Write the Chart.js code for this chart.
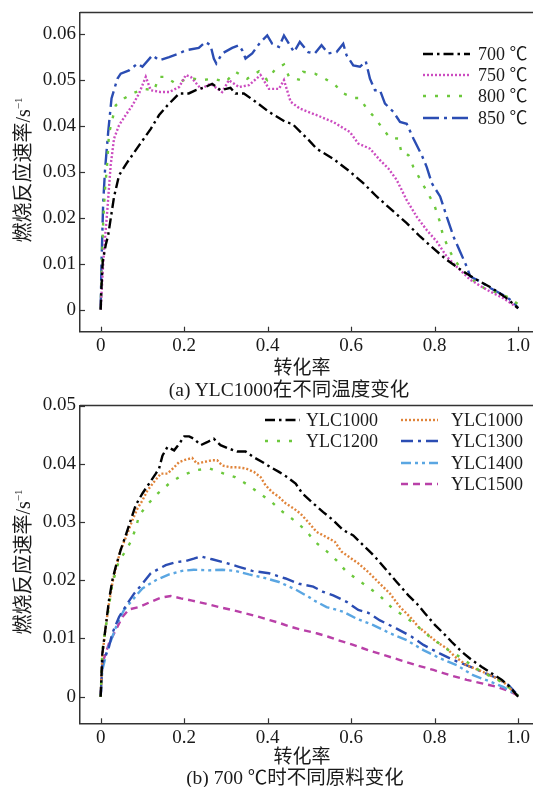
<!DOCTYPE html>
<html>
<head>
<meta charset="utf-8">
<script src="https://cdn.jsdelivr.net/npm/chart.js@4.4.1/dist/chart.umd.min.js"></script>
<style>
    html, body { margin: 0; padding: 0; background: #fff; }
    #page { position: relative; width: 533px; height: 787px; overflow: hidden; color: #1a1a1a;
            font-family: "Liberation Serif", "Times New Roman", "Noto Sans CJK SC", serif; }
    .box { position: absolute; left: 0; width: 533px; }
    #boxA { top: 0; height: 393px; }
    #boxB { top: 393px; height: 394px; }
    .lbl { position: absolute; white-space: nowrap; transform: translate(-50%, -50%); }
    .xtitle { font-size: 19px; }
    .caption { font-size: 19.5px; }
    .ytitle { font-size: 20px; transform: translate(-50%, -50%) rotate(-90deg); }
    .ytitle sup { font-size: 11px; }
</style>
</head>
<body>
<div id="page">
    <div class="box" id="boxA"><canvas id="chartA" width="533" height="393"></canvas></div>
    <div class="box" id="boxB"><canvas id="chartB" width="533" height="394"></canvas></div>
    <div class="lbl ytitle" style="left:21px; top:170px;">燃烧反应速率/s<sup>−1</sup></div>
    <div class="lbl xtitle" style="left:302px; top:365px;">转化率</div>
    <div class="lbl caption" style="left:289px; top:387px;">(a) YLC1000在不同温度变化</div>
    <div class="lbl ytitle" style="left:21px; top:562px;">燃烧反应速率/s<sup>−1</sup></div>
    <div class="lbl xtitle" style="left:302px; top:754px;">转化率</div>
    <div class="lbl caption" style="left:295px; top:775px;">(b) 700 ℃时不同原料变化</div>
</div>
<script>
"use strict";

// tick values
var xTicks = [0, 0.2, 0.4, 0.6, 0.8, 1.0];
var yTicksA = [0, 0.01, 0.02, 0.03, 0.04, 0.05, 0.06];
var yTicksB = [0, 0.01, 0.02, 0.03, 0.04, 0.05];

// (a) series labels and [conversion, rate] points
var labelsA = ["700 ℃", "750 ℃", "800 ℃", "850 ℃"];

var rate700 = [[0, 0], [0.002, 0.005], [0.005, 0.0105], [0.012, 0.014], [0.018, 0.0162], [0.032, 0.0245],
    [0.044, 0.0292], [0.062, 0.0318], [0.092, 0.0357], [0.12, 0.0393], [0.14, 0.0423], [0.16, 0.0444],
    [0.188, 0.047], [0.211, 0.047], [0.228, 0.0477], [0.251, 0.0484], [0.267, 0.0491], [0.287, 0.0477],
    [0.311, 0.0482], [0.323, 0.047], [0.343, 0.047], [0.371, 0.0452], [0.403, 0.043], [0.443, 0.0408],
    [0.459, 0.0404], [0.499, 0.0368], [0.517, 0.035], [0.557, 0.0328], [0.597, 0.03], [0.629, 0.0275],
    [0.661, 0.0246], [0.693, 0.022], [0.733, 0.0188], [0.765, 0.0159], [0.797, 0.0133], [0.829, 0.0108],
    [0.868, 0.0083], [0.901, 0.0065], [0.937, 0.0047], [0.972, 0.0025], [1.0, 0.0003]];

var rate750 = [[0, 0], [0.003, 0.005], [0.006, 0.01], [0.01, 0.015], [0.016, 0.0217], [0.024, 0.0314],
    [0.032, 0.0372], [0.044, 0.0401], [0.06, 0.0423], [0.076, 0.0444], [0.092, 0.047], [0.108, 0.0506],
    [0.12, 0.0477], [0.144, 0.0473], [0.164, 0.0473], [0.188, 0.0484], [0.204, 0.051], [0.216, 0.0506],
    [0.24, 0.048], [0.263, 0.0491], [0.291, 0.0473], [0.307, 0.0499], [0.331, 0.0484], [0.355, 0.0488],
    [0.383, 0.051], [0.403, 0.048], [0.427, 0.048], [0.439, 0.0499], [0.455, 0.0452], [0.477, 0.0437],
    [0.517, 0.0423], [0.557, 0.0408], [0.597, 0.0386], [0.617, 0.0361], [0.645, 0.035], [0.669, 0.0325],
    [0.689, 0.0307], [0.709, 0.0282], [0.733, 0.0238], [0.757, 0.0202], [0.781, 0.0173], [0.805, 0.0148],
    [0.829, 0.0115], [0.853, 0.0093], [0.885, 0.0065], [0.925, 0.0043], [0.964, 0.0025], [1.0, 0.0003]];

var rate800 = [[0, 0], [0.002, 0.0068], [0.004, 0.013], [0.006, 0.0191], [0.01, 0.0257], [0.016, 0.0322],
    [0.02, 0.0383], [0.036, 0.0444], [0.056, 0.0459], [0.076, 0.047], [0.104, 0.048], [0.128, 0.0477],
    [0.14, 0.0506], [0.156, 0.0506], [0.18, 0.0491], [0.207, 0.0502], [0.223, 0.0502], [0.243, 0.0499],
    [0.271, 0.0502], [0.299, 0.0495], [0.323, 0.0517], [0.351, 0.0502], [0.379, 0.0518], [0.399, 0.0499],
    [0.419, 0.0524], [0.439, 0.0533], [0.451, 0.0506], [0.479, 0.0499], [0.485, 0.0517], [0.513, 0.0513],
    [0.537, 0.0502], [0.561, 0.0489], [0.581, 0.047], [0.609, 0.046], [0.621, 0.046], [0.637, 0.0437],
    [0.653, 0.0421], [0.673, 0.0397], [0.693, 0.0373], [0.713, 0.0372], [0.721, 0.0339], [0.737, 0.0336],
    [0.749, 0.031], [0.766, 0.0282], [0.783, 0.0254], [0.799, 0.0228], [0.811, 0.0195], [0.819, 0.0165],
    [0.831, 0.0137], [0.846, 0.011], [0.866, 0.0086], [0.89, 0.0065], [0.918, 0.0047], [0.95, 0.0036],
    [0.974, 0.0028], [1.0, 0.0012]];

var rate850 = [[0, 0], [0.001, 0.005], [0.002, 0.0101], [0.004, 0.0166], [0.006, 0.0231], [0.01, 0.0297],
    [0.012, 0.0321], [0.018, 0.0386], [0.026, 0.0459], [0.04, 0.0502], [0.048, 0.0513], [0.068, 0.052],
    [0.088, 0.0535], [0.1, 0.0528], [0.124, 0.0553], [0.14, 0.0542], [0.164, 0.0549], [0.188, 0.0557],
    [0.204, 0.0564], [0.235, 0.0569], [0.251, 0.0582], [0.263, 0.0575], [0.271, 0.0546], [0.277, 0.0535],
    [0.291, 0.0557], [0.315, 0.0569], [0.331, 0.0575], [0.339, 0.0564], [0.347, 0.0546], [0.363, 0.0557],
    [0.383, 0.0582], [0.399, 0.0596], [0.411, 0.0578], [0.427, 0.0571], [0.439, 0.0596], [0.451, 0.0578],
    [0.463, 0.056], [0.477, 0.0582], [0.497, 0.056], [0.513, 0.0557], [0.529, 0.0575], [0.545, 0.0557],
    [0.565, 0.056], [0.581, 0.0578], [0.589, 0.0553], [0.605, 0.0531], [0.621, 0.0528], [0.635, 0.054],
    [0.645, 0.0502], [0.657, 0.0477], [0.669, 0.0477], [0.681, 0.0448], [0.701, 0.043], [0.717, 0.0408],
    [0.733, 0.0404], [0.749, 0.0372], [0.769, 0.0336], [0.781, 0.031], [0.793, 0.0275], [0.813, 0.0246],
    [0.829, 0.0202], [0.845, 0.0159], [0.861, 0.0126], [0.877, 0.0093], [0.885, 0.0072], [0.909, 0.0061],
    [0.933, 0.0047], [0.964, 0.0032], [0.988, 0.0017], [1.0, 0.0003]];

// (b) series labels and [conversion, rate] points
var labelsB = ["YLC1000", "YLC1200", "YLC1000", "YLC1300", "YLC1400", "YLC1500"];

var rateB1000a = [[0, 0], [0.004, 0.0074], [0.012, 0.012], [0.02, 0.0166], [0.028, 0.02], [0.036, 0.0223],
    [0.048, 0.0252], [0.06, 0.0277], [0.072, 0.0303], [0.084, 0.0329], [0.1, 0.0349], [0.116, 0.0366],
    [0.132, 0.0383], [0.14, 0.0392], [0.148, 0.0414], [0.16, 0.0429], [0.176, 0.0423], [0.188, 0.0434],
    [0.2, 0.0447], [0.212, 0.0447], [0.223, 0.0443], [0.24, 0.0432], [0.255, 0.0437], [0.271, 0.0443],
    [0.287, 0.0432], [0.307, 0.0426], [0.327, 0.0421], [0.347, 0.0421], [0.367, 0.0411], [0.387, 0.0403],
    [0.407, 0.0394], [0.427, 0.0386], [0.447, 0.0377], [0.467, 0.0366], [0.483, 0.0349], [0.509, 0.0332],
    [0.533, 0.0317], [0.557, 0.0303], [0.581, 0.0286], [0.605, 0.0277], [0.629, 0.026], [0.649, 0.0246],
    [0.661, 0.0237], [0.685, 0.0217], [0.709, 0.0197], [0.737, 0.0174], [0.757, 0.016], [0.777, 0.0143],
    [0.801, 0.0123], [0.821, 0.0109], [0.841, 0.0094], [0.865, 0.0077], [0.889, 0.0063], [0.913, 0.0051],
    [0.937, 0.004], [0.961, 0.0029], [0.98, 0.0017], [1.0, 0]];

var rateB1000b = [[0, 0], [0.004, 0.007], [0.012, 0.012], [0.02, 0.016], [0.028, 0.0195], [0.036, 0.022],
    [0.048, 0.0252], [0.064, 0.028], [0.076, 0.0303], [0.088, 0.0323], [0.1, 0.0337], [0.112, 0.0354],
    [0.128, 0.0369], [0.144, 0.0383], [0.16, 0.0383], [0.176, 0.0394], [0.188, 0.0403], [0.204, 0.0407],
    [0.219, 0.041], [0.231, 0.04], [0.247, 0.0403], [0.267, 0.0406], [0.279, 0.0406], [0.291, 0.0397],
    [0.311, 0.0394], [0.327, 0.0394], [0.347, 0.0392], [0.367, 0.0386], [0.383, 0.0377], [0.395, 0.0363],
    [0.411, 0.0351], [0.427, 0.0343], [0.443, 0.0332], [0.463, 0.0323], [0.479, 0.0314], [0.497, 0.03],
    [0.517, 0.0283], [0.541, 0.0274], [0.561, 0.0266], [0.577, 0.0249], [0.617, 0.0229], [0.641, 0.0214],
    [0.669, 0.0194], [0.693, 0.0177], [0.717, 0.0154], [0.741, 0.0137], [0.761, 0.012], [0.785, 0.0106],
    [0.805, 0.0094], [0.829, 0.0083], [0.848, 0.0069], [0.877, 0.0054], [0.905, 0.0046], [0.933, 0.0037],
    [0.964, 0.0026], [0.996, 0.0003], [1.0, 0]];

var rateB1200 = [[0, 0], [0.004, 0.008], [0.016, 0.0137], [0.028, 0.0194], [0.044, 0.0234], [0.056, 0.0246],
    [0.072, 0.0266], [0.084, 0.0289], [0.092, 0.0311], [0.112, 0.033], [0.137, 0.0349], [0.164, 0.0366],
    [0.192, 0.0379], [0.228, 0.0389], [0.261, 0.0392], [0.295, 0.0383], [0.322, 0.0377], [0.354, 0.0363],
    [0.381, 0.0349], [0.41, 0.0334], [0.435, 0.0318], [0.463, 0.0303], [0.491, 0.0286], [0.513, 0.0266],
    [0.541, 0.025], [0.565, 0.0234], [0.587, 0.0216], [0.613, 0.0202], [0.641, 0.0188], [0.669, 0.0173],
    [0.697, 0.0153], [0.725, 0.0139], [0.753, 0.0125], [0.779, 0.0108], [0.806, 0.0094], [0.833, 0.008],
    [0.861, 0.0068], [0.889, 0.0054], [0.918, 0.004], [0.944, 0.0032], [0.972, 0.002], [1.0, 0.0002]];

var rateB1300 = [[0, 0], [0.004, 0.0057], [0.02, 0.0086], [0.028, 0.0109], [0.044, 0.0137], [0.064, 0.016],
    [0.08, 0.0177], [0.1, 0.0194], [0.12, 0.0212], [0.156, 0.0226], [0.18, 0.0231], [0.204, 0.0233],
    [0.223, 0.0237], [0.24, 0.0241], [0.267, 0.0236], [0.299, 0.023], [0.331, 0.0223], [0.363, 0.0216],
    [0.403, 0.0212], [0.443, 0.0203], [0.475, 0.0194], [0.509, 0.0189], [0.533, 0.018], [0.557, 0.0174],
    [0.589, 0.0163], [0.617, 0.0149], [0.641, 0.0144], [0.669, 0.0131], [0.709, 0.0117], [0.745, 0.0103],
    [0.773, 0.0089], [0.813, 0.0074], [0.845, 0.0063], [0.877, 0.0054], [0.913, 0.0043], [0.949, 0.0032],
    [0.977, 0.002], [1.0, 0.0002]];

var rateB1400 = [[0, 0], [0.004, 0.0046], [0.016, 0.008], [0.028, 0.0103], [0.04, 0.0126], [0.056, 0.0149],
    [0.076, 0.0166], [0.1, 0.0186], [0.132, 0.02], [0.164, 0.021], [0.195, 0.0216], [0.223, 0.0218],
    [0.259, 0.0217], [0.291, 0.0218], [0.323, 0.0216], [0.355, 0.021], [0.387, 0.0205], [0.427, 0.0197],
    [0.467, 0.0184], [0.499, 0.0171], [0.509, 0.0166], [0.541, 0.0154], [0.581, 0.0146], [0.613, 0.0134],
    [0.653, 0.0123], [0.693, 0.0109], [0.733, 0.0097], [0.773, 0.008], [0.813, 0.0066], [0.853, 0.0054],
    [0.892, 0.0037], [0.933, 0.0026], [0.964, 0.0017], [1.0, 0.0002]];

var rateB1500 = [[0, 0], [0.004, 0.0057], [0.02, 0.0092], [0.036, 0.0114], [0.052, 0.0137], [0.068, 0.015],
    [0.092, 0.0154], [0.12, 0.0163], [0.144, 0.017], [0.168, 0.0173], [0.192, 0.0169], [0.219, 0.0165],
    [0.251, 0.016], [0.283, 0.0154], [0.315, 0.0149], [0.347, 0.0143], [0.379, 0.0137], [0.407, 0.0131],
    [0.427, 0.0127], [0.451, 0.0121], [0.475, 0.0116], [0.517, 0.0109], [0.545, 0.0103], [0.569, 0.0097],
    [0.605, 0.0089], [0.645, 0.0079], [0.685, 0.007], [0.717, 0.0063], [0.757, 0.0054], [0.797, 0.0046],
    [0.837, 0.0037], [0.877, 0.0029], [0.913, 0.0023], [0.949, 0.0017], [0.98, 0.0009], [1.0, 0.0002]];

var serif = "\"Liberation Serif\", \"Times New Roman\", \"Noto Sans CJK SC\", serif";
var axisColor = "#333";

function toPoints(pairs)
{
    return pairs.map(function(p)
    {
        return { x: p[0], y: p[1] };
    });
}

function lineSet(label, pairs, color, dash)
{
    return {
        label: label,
        data: toPoints(pairs),
        borderColor: color,
        backgroundColor: color,
        borderDash: dash,
        borderWidth: 2.4,
        pointRadius: 0,
        tension: 0,
        fill: false,
    };
}

// top border line and inward tick marks
var framePlugin =
{
    id: "frame",
    afterDatasetsDraw: function(chart)
    {
        var ctx = chart.ctx;
        var area = chart.chartArea;
        var xs = chart.scales.x;
        var ys = chart.scales.y;
        ctx.save();
        ctx.strokeStyle = axisColor;
        ctx.lineWidth = 1.5;
        ctx.beginPath();
        ctx.moveTo(area.left, area.top);
        ctx.lineTo(area.right, area.top);
        ctx.stroke();
        ctx.lineWidth = 1.2;
        xs.ticks.forEach(function(t)
        {
            var px = Math.round(xs.getPixelForValue(t.value)) + 0.5;
            ctx.beginPath();
            ctx.moveTo(px, area.bottom);
            ctx.lineTo(px, area.bottom - 5);
            ctx.stroke();
        });
        ys.ticks.forEach(function(t)
        {
            var py = Math.round(ys.getPixelForValue(t.value)) + 0.5;
            ctx.beginPath();
            ctx.moveTo(area.left, py);
            ctx.lineTo(area.left + 5, py);
            ctx.stroke();
        });
        ctx.restore();
    },
};

// legend drawn inside the plot with line samples
var sampleLegendPlugin =
{
    id: "sampleLegend",
    afterDraw: function(chart, args, opts)
    {
        var ctx = chart.ctx;
        ctx.save();
        ctx.font = opts.font;
        ctx.fillStyle = "#1a1a1a";
        ctx.textBaseline = "middle";
        opts.items.forEach(function(it)
        {
            var ds = chart.data.datasets[it.index];
            ctx.strokeStyle = ds.borderColor;
            ctx.lineWidth = ds.borderWidth;
            ctx.setLineDash(ds.borderDash || []);
            ctx.beginPath();
            ctx.moveTo(it.x1, it.y);
            ctx.lineTo(it.x2, it.y);
            ctx.stroke();
            ctx.setLineDash([]);
            ctx.fillText(ds.label, it.tx, it.y + 1);
        });
        ctx.restore();
    },
};

function makeChart(canvasId, datasets, yTicks, range, legendItems)
{
    var ctx = document.getElementById(canvasId).getContext("2d");
    return new Chart(ctx,
    {
        type: "line",
        data: { datasets: datasets },
        plugins: [framePlugin, sampleLegendPlugin],
        options:
        {
            responsive: false,
            animation: false,
            devicePixelRatio: 1,
            layout: { padding: { top: range.padTop, left: 0, right: 0, bottom: 0 } },
            plugins:
            {
                legend: { display: false },
                tooltip: { enabled: false },
                sampleLegend: { font: "18px " + serif, items: legendItems },
            },
            scales:
            {
                x:
                {
                    type: "linear",
                    min: -0.0495,
                    max: 1.0355,
                    afterBuildTicks: function(scale)
                    {
                        scale.ticks = xTicks.map(function(v) { return { value: v }; });
                    },
                    afterFit: function(scale)
                    {
                        scale.height = range.xHeight;
                        scale.paddingLeft = 0;
                        scale.paddingRight = 0;
                    },
                    grid: { display: false, drawTicks: false },
                    border: { display: true, color: axisColor, width: 1.5 },
                    ticks:
                    {
                        autoSkip: false,
                        maxRotation: 0,
                        padding: 3,
                        color: "#1a1a1a",
                        font: { family: serif, size: 19 },
                        callback: function(v) { return v === 0 ? "0" : v.toFixed(1); },
                    },
                },
                y:
                {
                    type: "linear",
                    min: range.yMin,
                    max: range.yMax,
                    afterBuildTicks: function(scale)
                    {
                        scale.ticks = yTicks.map(function(v) { return { value: v }; });
                    },
                    afterFit: function(scale)
                    {
                        scale.width = 80;
                        scale.paddingTop = 0;
                        scale.paddingBottom = 0;
                    },
                    grid: { display: false, drawTicks: false },
                    border: { display: true, color: axisColor, width: 1.5 },
                    ticks:
                    {
                        autoSkip: false,
                        padding: 4,
                        color: "#1a1a1a",
                        font: { family: serif, size: 19 },
                        callback: function(v) { return v === 0 ? "0" : v.toFixed(2); },
                    },
                },
            },
        },
    });
}

makeChart("chartA",
    [
        lineSet(labelsA[0], rate700, "#000000", [10, 4, 2.5, 4]),
        lineSet(labelsA[1], rate750, "#cc4cc0", [2, 2]),
        lineSet(labelsA[2], rate800, "#6cc83c", [3, 9]),
        lineSet(labelsA[3], rate850, "#2b4db3", [16, 5, 3, 5]),
    ],
    yTicksA,
    { yMin: -0.0048, yMax: 0.0646, padTop: 12.5, xHeight: 61.3 },
    [
        { index: 0, x1: 423, x2: 470, tx: 478, y: 54 },
        { index: 1, x1: 423, x2: 470, tx: 478, y: 75 },
        { index: 2, x1: 423, x2: 470, tx: 478, y: 96 },
        { index: 3, x1: 423, x2: 470, tx: 478, y: 118 },
    ]);

makeChart("chartB",
    [
        lineSet(labelsB[0], rateB1000a, "#000000", [10, 4, 2.5, 4]),
        lineSet(labelsB[1], rateB1200, "#6cc83c", [3, 9]),
        lineSet(labelsB[2], rateB1000b, "#e0843a", [2, 2]),
        lineSet(labelsB[3], rateB1300, "#2b4db3", [12, 5, 3, 5]),
        lineSet(labelsB[4], rateB1400, "#5aa6e2", [10, 4, 3, 4, 3, 4]),
        lineSet(labelsB[5], rateB1500, "#b940a8", [7, 5]),
    ],
    yTicksB,
    { yMin: -0.00456, yMax: 0.05, padTop: 12.5, xHeight: 63.7 },
    [
        { index: 0, x1: 265, x2: 300, tx: 306, y: 27 },
        { index: 1, x1: 265, x2: 300, tx: 306, y: 48 },
        { index: 2, x1: 401, x2: 438, tx: 451, y: 27 },
        { index: 3, x1: 401, x2: 438, tx: 451, y: 48 },
        { index: 4, x1: 401, x2: 438, tx: 451, y: 70 },
        { index: 5, x1: 401, x2: 438, tx: 451, y: 91 },
    ]);
</script>
</body>
</html>
